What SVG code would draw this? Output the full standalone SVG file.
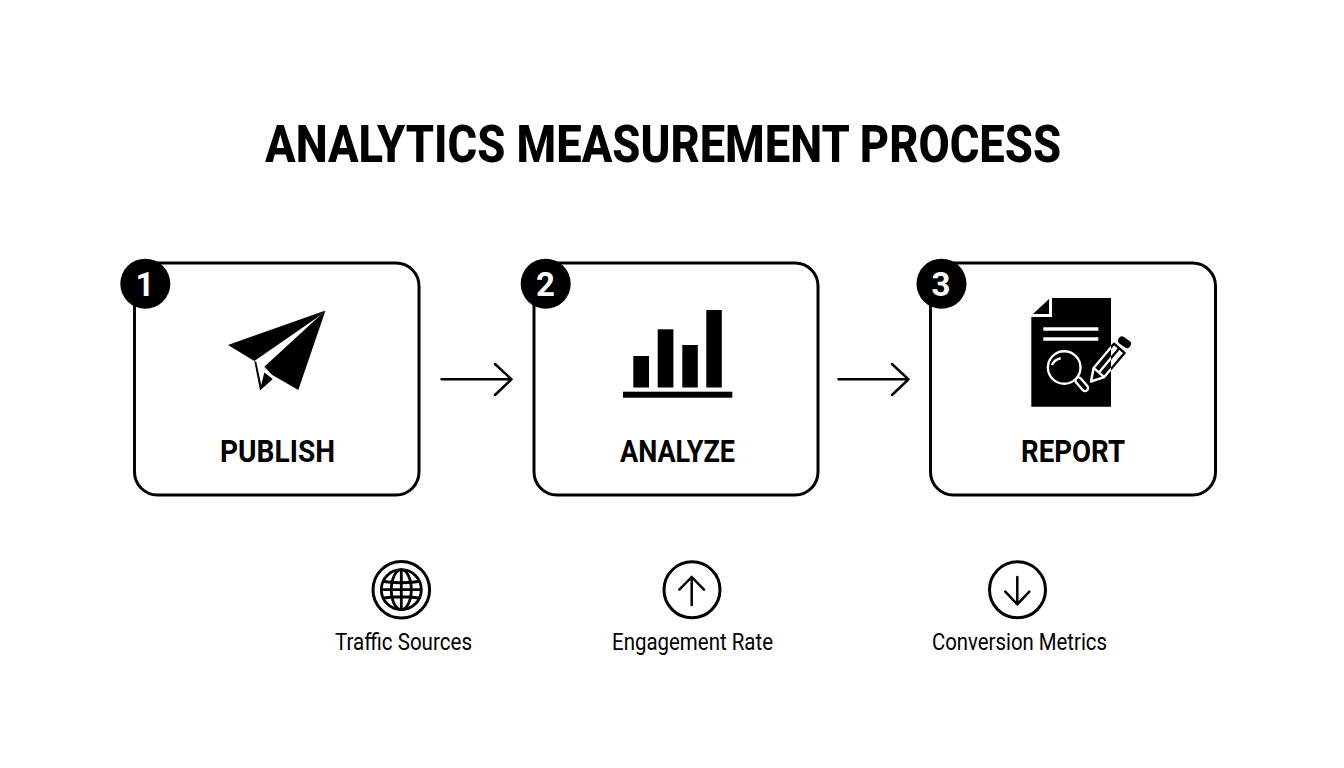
<svg xmlns="http://www.w3.org/2000/svg" width="1344" height="768" viewBox="0 0 1344 768">
<style>
text{font-family:Roboto,"Liberation Sans",sans-serif;fill:#000}
.t{font-size:52px;font-weight:800;text-anchor:middle}
.l{font-size:30.500px;font-weight:700;text-anchor:middle}
.s{font-size:23px;font-weight:400;text-anchor:middle}
.n{font-size:33px;font-weight:700;text-anchor:middle;fill:#fff}
.b{fill:#fff;stroke:#000;stroke-width:3}
.k{fill:#000}
.w{fill:none;stroke:#fff;stroke-width:2.400}
.o{fill:none;stroke:#000;stroke-width:2.500;stroke-linecap:round;stroke-linejoin:round}
.r{fill:none;stroke:#000;stroke-width:3}
</style>
<defs>
<clipPath id="inDoc"><rect x="1000" y="280" width="111" height="140"/></clipPath>
<clipPath id="outDoc"><rect x="1111" y="280" width="40" height="140"/></clipPath>
<path id="pencilBody" d="M1091 381.500L1093.600 367.900L1114 343.700L1124.500 352.900L1104.200 377.100ZM1093.600 367.900L1104.200 377.100M1098.900 372.500L1119.200 348.300"/>
</defs>
<rect width="1344" height="768" fill="#fff"/>
<text id="title" class="t" x="663" y="161.500" textLength="796" lengthAdjust="spacingAndGlyphs">ANALYTICS MEASUREMENT PROCESS</text>
<g id="connectors">
<path class="o" d="M441.500 379.300H511.500M495 364L511.500 379.300L495 395"/>
<path class="o" d="M838.500 379.300H908.500M892 364L908.500 379.300L892 395"/>
</g>
<g id="node-publish">
<rect class="b" x="134.500" y="263" width="284.500" height="232" rx="23"/>
<circle class="k" cx="145.300" cy="283.700" r="25"/>
<text class="n" x="145" y="296">1</text>
<path class="k" d="M325.500 310.500L228 345L254.300 361L318.300 316.700Z"/>
<path class="k" d="M325.500 310.500L264.300 366.700L272.300 375L298.300 390Z"/>
<path class="k" d="M254.300 361L260 390.500L272.800 379L264.300 372.500L261.300 385L256.300 362Z"/>
<text class="l" x="277.500" y="462.300" textLength="115" lengthAdjust="spacingAndGlyphs">PUBLISH</text>
</g>
<g id="node-analyze">
<rect class="b" x="534" y="263" width="284" height="232" rx="23"/>
<circle class="k" cx="545.700" cy="283.700" r="25"/>
<text class="n" x="545.500" y="296">2</text>
<rect class="k" x="633.300" y="356" width="15.700" height="31.500"/>
<rect class="k" x="657.700" y="329.300" width="15.700" height="58.200"/>
<rect class="k" x="682.300" y="345" width="15.500" height="42.500"/>
<rect class="k" x="706.300" y="310" width="15.500" height="77.500"/>
<rect class="k" x="623" y="391.700" width="109.300" height="6"/>
<text class="l" x="677.500" y="462.300" textLength="115" lengthAdjust="spacingAndGlyphs">ANALYZE</text>
</g>
<g id="node-report">
<rect class="b" x="930.500" y="263" width="285" height="232" rx="23"/>
<circle class="k" cx="941.500" cy="283.700" r="25"/>
<text class="n" x="941" y="296">3</text>
<path class="k" d="M1052 298H1111V406.700H1031.300V317H1052Z"/>
<path class="k" d="M1049 299V314H1033Z"/>
<path fill="none" stroke="#fff" stroke-width="3.400" d="M1043.300 329H1098.300M1043.300 339H1098.300"/>
<path fill="#000" stroke="#fff" stroke-width="8.500" stroke-linecap="round" d="M1078.500 380.500L1085 388"/>
<path stroke="#000" stroke-width="3.800" stroke-linecap="round" d="M1078.500 380.500L1085 388"/>
<circle fill="#000" stroke="#fff" stroke-width="2.400" cx="1064.200" cy="367.500" r="16.300"/>
<path class="w" d="M1052 365A12 12 0 0 1 1060.700 358.300"/>
<g clip-path="url(#inDoc)"><use href="#pencilBody" fill="#000" stroke="#fff" stroke-width="2.400" stroke-linejoin="round"/></g>
<g clip-path="url(#outDoc)"><use href="#pencilBody" fill="#fff" stroke="#000" stroke-width="2.400" stroke-linejoin="round"/></g>
<path stroke="#000" stroke-width="8" stroke-linecap="round" d="M1122 340.500L1127 344"/>
<text class="l" x="1073" y="462.300" textLength="104" lengthAdjust="spacingAndGlyphs">REPORT</text>
</g>
<g id="metric-traffic">
<circle class="r" cx="401.300" cy="589.700" r="28.300"/>
<g fill="none" stroke="#000" stroke-width="2.800">
<circle cx="401.300" cy="589.700" r="20"/>
<ellipse cx="401.300" cy="589.700" rx="10" ry="20"/>
<path d="M401.300 569.700V609.700M381.300 589.700H421.300M384 581.500Q401.300 584 418.600 581.500M384 598Q401.300 595.500 418.600 598"/>
</g>
<text class="s" x="403.500" y="650" textLength="137" lengthAdjust="spacingAndGlyphs">Traffic Sources</text>
</g>
<g id="metric-engagement">
<circle class="r" cx="692" cy="589.800" r="28"/>
<path class="o" d="M691.700 605V577M679.300 589.700L691.700 577L704 589.700"/>
<text class="s" x="692.500" y="650" textLength="161" lengthAdjust="spacingAndGlyphs">Engagement Rate</text>
</g>
<g id="metric-conversion">
<circle class="r" cx="1017.500" cy="589.800" r="28"/>
<path class="o" d="M1017.300 577V604.300M1005.300 591.700L1017.300 604.300L1029.300 591.700"/>
<text class="s" x="1019.500" y="650" textLength="175" lengthAdjust="spacingAndGlyphs">Conversion Metrics</text>
</g>
</svg>
